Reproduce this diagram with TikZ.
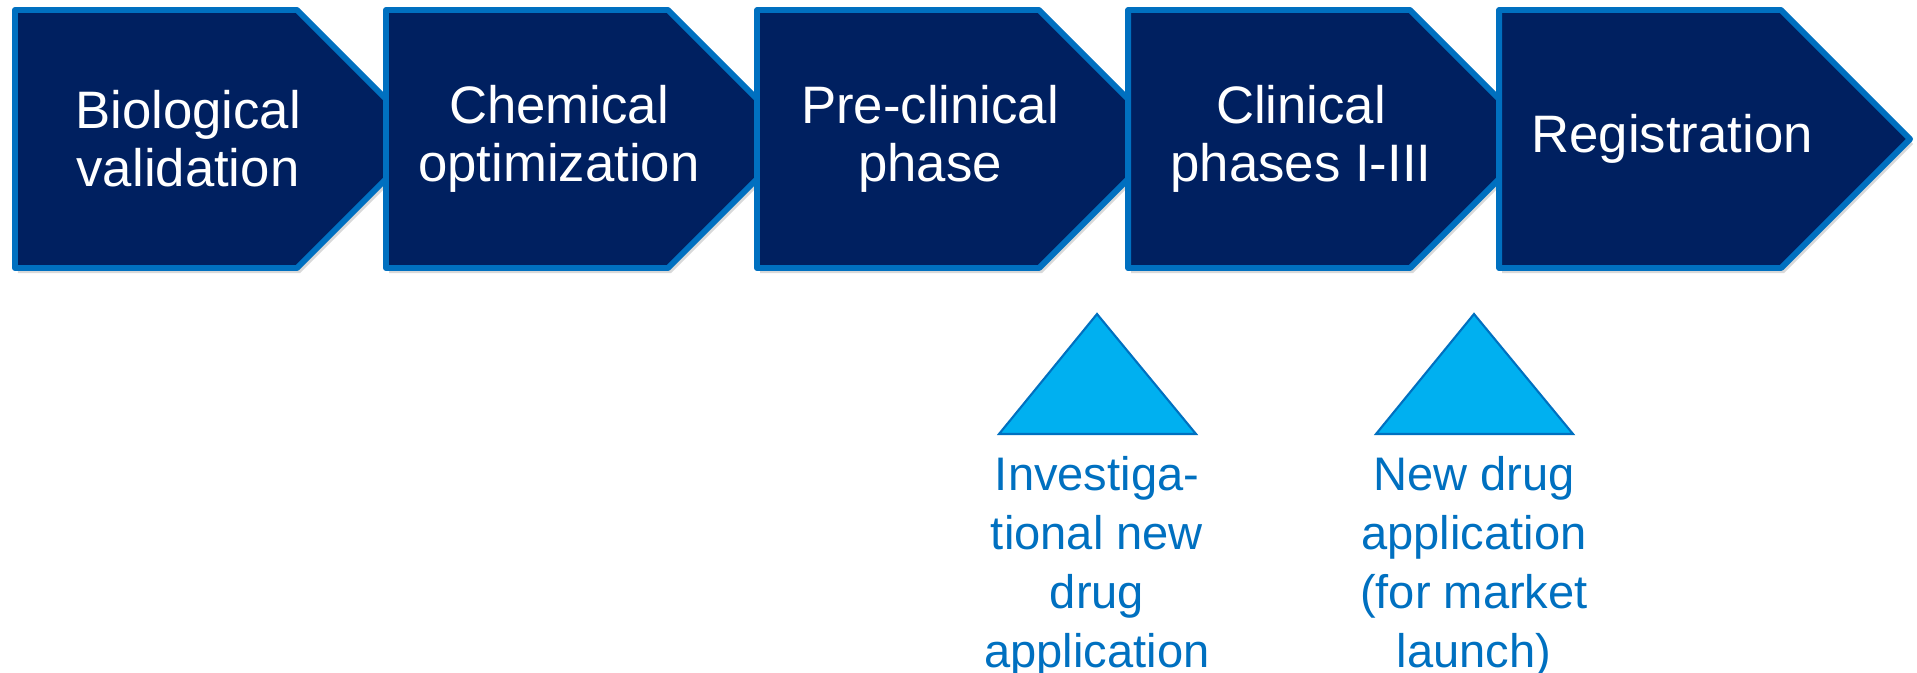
\documentclass[tikz,border=0pt]{standalone}
\usepackage{fontspec}
\setmainfont{Liberation Sans}
\usepackage{xcolor}
\usetikzlibrary{shadows}
\definecolor{navy}{RGB}{0,32,96}
\definecolor{edgeblue}{RGB}{0,112,192}
\definecolor{skyblue}{RGB}{0,176,240}

\begin{document}
\begin{tikzpicture} [
    chevron/.style={fill=navy, draw=edgeblue, line width=1.7pt, line join=round,
        drop shadow={shadow xshift=0.03cm, shadow yshift=-0.05cm, opacity=0.3}},
    steptext/.style={text=white, align=center, font=\fontsize{15}{16.5}\selectfont},
    marker/.style={fill=skyblue, draw=edgeblue, line width=0.6pt},
    note/.style={text=edgeblue, align=center, anchor=north, inner sep=0pt,
        font=\fontsize{13.4}{16.8}\selectfont},
    ]
    \useasboundingbox (0,0) rectangle (19.17,-6.72);

    % phases, each one drawn over the tip of the one before
    \foreach \x/\name/\txt in {0.15/bio/{Biological\\validation},
                               3.86/chem/{Chemical\\optimization},
                               7.57/precl/{Pre-clinical\\phase},
                               11.28/clin/{Clinical\\phases I-III},
                               14.99/reg/{Registration}}
    {
        \draw[chevron] (\x,-0.10) -- ++(2.82,0) -- ++(1.29,-1.29)
            -- ++(-1.29,-1.29) -- ++(-2.82,0) -- cycle;
        \node[steptext] (\name) at (\x+1.73,-1.39) {\txt};
    }

    % milestones
    \draw[marker] (10.97,-3.14) -- (11.96,-4.34) -- (9.99,-4.34) -- cycle;
    \draw[marker] (14.74,-3.14) -- (15.73,-4.34) -- (13.76,-4.34) -- cycle;

    \node[note] (ind) at (10.97,-4.56) {Investiga-\\tional new\\drug\\application};
    \node[note] (nda) at (14.74,-4.56) {New drug\\application\\(for market\\launch)};

\end{tikzpicture}
\end{document}
